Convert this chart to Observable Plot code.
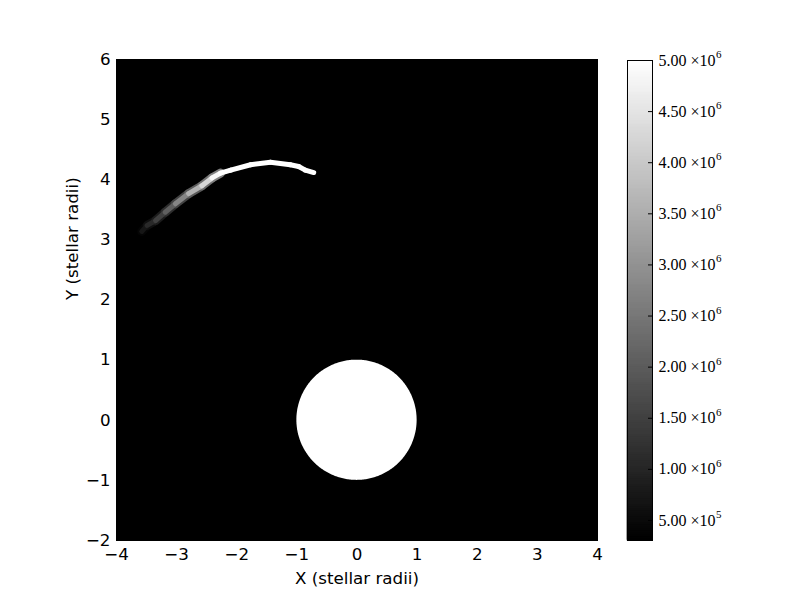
<!DOCTYPE html>
<html>
<head>
<meta charset="utf-8">
<script src="https://cdn.jsdelivr.net/npm/d3@7"></script>
<script src="https://cdn.jsdelivr.net/npm/@observablehq/plot@0.6"></script>
<style>
  html, body { margin: 0; padding: 0; background: white; }
  #wrap { position: relative; width: 800px; height: 600px; }
  #wrap svg { position: absolute; left: 0; top: 0; }
</style>
</head>
<body>
<div id="wrap"></div>
<script>
// ---- data ----
const xTicks = [-4, -3, -2, -1, 0, 1, 2, 3, 4];
const yTicks = [-2, -1, 0, 1, 2, 3, 4, 5, 6];
const xDomain = [-4, 4];
const yDomain = [-2, 6];

// stream arc centre line (stellar radii) and its value
const arcX = [-3.58, -3.49, -3.35, -3.19, -3.02, -2.80, -2.58, -2.41, -2.27, -2.10, -1.77, -1.44, -1.11, -0.97, -0.86, -0.72];
const arcY = [ 3.14,  3.24,  3.32,  3.46,  3.60,  3.77,  3.90,  4.03,  4.11,  4.16,  4.25,  4.29,  4.25,  4.22,  4.16,  4.12];
const arcV = [5.4e5, 8.7e5, 1.24e6, 1.71e6, 2.4e6, 3.1e6, 4.06e6, 4.5e6, 5.2e6, 5.6e6, 6.0e6, 6.2e6, 6.0e6, 5.8e6, 5.6e6, 5.3e6];

// the star (radius in stellar radii)
const starRadius = 1;

// colour bar
const cbDomain = [3.04e5, 5.0e6];
const cbTicks = [5e5, 1e6, 1.5e6, 2e6, 2.5e6, 3e6, 3.5e6, 4e6, 4.5e6, 5e6];

// ---- derived tables ----
const segs = d3.range(arcX.length - 1).map(i => ({
  x1: arcX[i], y1: arcY[i], x2: arcX[i + 1], y2: arcY[i + 1],
  v: (arcV[i] + arcV[i + 1]) / 2
}));
// faint diffuse fringe only where the stream is not saturated
const fringe = segs.filter(d => d.v < cbDomain[1]).map(d => ({ ...d, v: d.v * 0.55 }));
const star = d3.range(0, 181).map(a => {
  const t = a * Math.PI / 180;
  return { x: starRadius * Math.cos(t), h: starRadius * Math.sin(t) };
});
const colorOpts = { type: "linear", domain: cbDomain, range: ["black", "white"], clamp: true, interpolate: "rgb" };

const font = "DejaVu Sans, sans-serif";
const fs = 16.7;

const main = Plot.plot({
  width: 800, height: 600,
  marginLeft: 116, marginRight: 203, marginTop: 59, marginBottom: 60,
  style: { fontFamily: font, fontSize: fs + "px", background: "transparent", color: "black" },
  x: { domain: xDomain },
  y: { domain: yDomain },
  color: colorOpts,
  marks: [
    Plot.frame({ fill: "black", stroke: "black" }),
    Plot.areaY(star, { x: "x", y1: d => -d.h, y2: d => d.h, fill: "white" }),
    Plot.link(fringe, { x1: "x1", y1: "y1", x2: "x2", y2: "y2", stroke: "v", strokeWidth: 9, strokeLinecap: "round" }),
    Plot.link(segs, { x1: "x1", y1: "y1", x2: "x2", y2: "y2", stroke: "v", strokeWidth: 5, strokeLinecap: "round" }),
    Plot.axisX({ ticks: xTicks, tickSize: 0, tickPadding: 8, label: null, fontSize: fs }),
    Plot.axisY({ ticks: yTicks, tickSize: 0, tickPadding: 6, label: null, fontSize: fs }),
    Plot.text(["X (stellar radii)"], { frameAnchor: "bottom", dy: 38, text: d => d, fontSize: fs, lineAnchor: "middle" }),
    Plot.text(["Y (stellar radii)"], { frameAnchor: "left", dx: -44, text: d => d, fontSize: fs, rotate: -90, lineAnchor: "middle" })
  ]
});

// colour bar
const nSteps = 240;
const steps = d3.range(nSteps).map(i => {
  const a = cbDomain[0] + (cbDomain[1] - cbDomain[0]) * i / nSteps;
  const b = cbDomain[0] + (cbDomain[1] - cbDomain[0]) * (i + 1) / nSteps;
  return { a, b, v: (a + b) / 2 };
});
const expOf = v => Math.floor(Math.log10(v));
const mant = v => (v / Math.pow(10, expOf(v))).toFixed(2) + " \u00d710";
const serif = "Liberation Serif, DejaVu Serif, serif";
const cfs = 16;
const ctx = document.createElement("canvas").getContext("2d");
ctx.font = cfs + "px " + serif;
const mw = ctx.measureText(mant(cbTicks[0])).width;

const cbar = Plot.plot({
  width: 800, height: 600,
  marginLeft: 627, marginRight: 148, marginTop: 60, marginBottom: 60,
  style: { background: "transparent", fontFamily: serif },
  x: { domain: [0, 1], axis: null },
  y: { domain: cbDomain, axis: null },
  color: colorOpts,
  marks: [
    Plot.rect(steps, { x1: 0, x2: 1, y1: "a", y2: "b", fill: "v", stroke: "v", strokeWidth: 0.6 }),
    Plot.ruleY(cbTicks, { x1: 0.84, x2: 1, stroke: "black", strokeWidth: 1 }),
    Plot.frame({ stroke: "black", strokeWidth: 1 }),
    Plot.text(cbTicks, { x: 1, y: d => d, dx: 6, text: mant, textAnchor: "start", fontSize: cfs, fontFamily: serif, fill: "black", lineAnchor: "middle" }),
    Plot.text(cbTicks, { x: 1, y: d => d, dx: 6 + mw + 0.5, dy: -6, text: d => String(expOf(d)), textAnchor: "start", fontSize: 11, fontFamily: serif, fill: "black", lineAnchor: "middle" })
  ]
});

const wrap = document.getElementById("wrap");
wrap.appendChild(main);
wrap.appendChild(cbar);
</script>
</body>
</html>
